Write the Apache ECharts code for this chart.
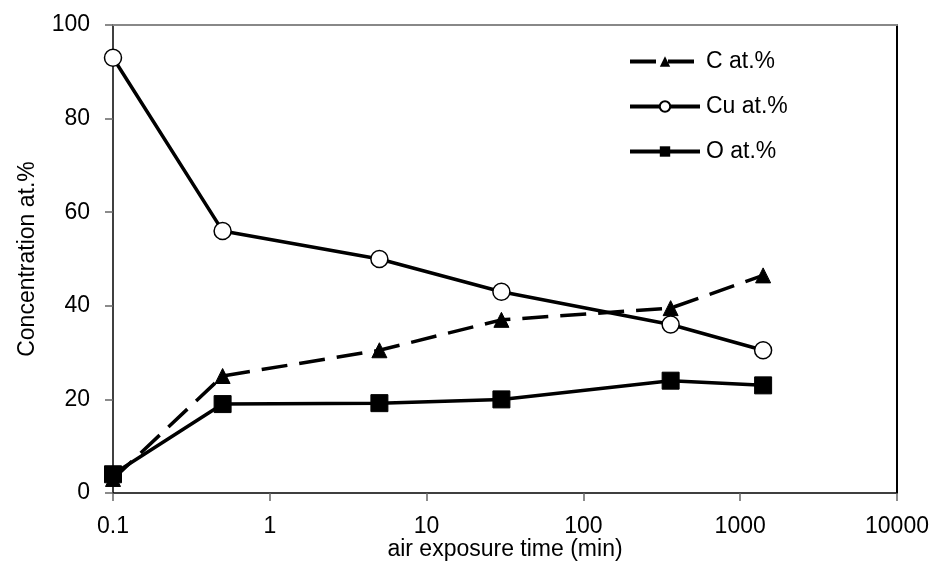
<!DOCTYPE html>
<html>
<head>
<meta charset="utf-8">
<script src="https://cdn.jsdelivr.net/npm/echarts@6/dist/echarts.min.js"></script>
<style>html,body{margin:0;padding:0;background:#fff}#c{width:933px;height:562px}</style>
</head>
<body>
<div id="c"></div>
<script>
const times = [0.1, 0.5, 5, 30, 360, 1400];
const cAt = [3, 25, 30.5, 37, 39.5, 46.5];
const cuAt = [93, 56, 50, 43, 36, 30.5];
const oAt = [4, 19, 19.2, 20, 24, 23];
const xTicks = [0.1, 1, 10, 100, 1000, 10000];
const seriesNames = ['C at.%', 'Cu at.%', 'O at.%'];

const pairs = arr => times.map((t, i) => [t, arr[i]]);
const FONT = 'Liberation Sans, Arial, sans-serif';
const FS = 23;
const chart = echarts.init(document.getElementById('c'));
chart.setOption({
  animation: false,
  grid: {left: 113, right: 36, top: 25, bottom: 69, containLabel: false, outerBoundsMode: 'none'},
  legend: {
    orient: 'vertical', left: 623, top: 45,
    itemWidth: 70, itemHeight: 13, itemGap: 22,
    textStyle: {fontFamily: FONT, fontSize: FS, color: '#000', padding: [0, 0, 0, 1]},
    lineStyle: {width: 4},
    data: seriesNames
  },
  xAxis: [{
    type: 'log', logBase: 10, min: 0.1, max: 10000,
    name: 'air exposure time (min)', nameLocation: 'middle', nameGap: 45, nameMoveOverlap: false,
    nameTextStyle: {fontFamily: FONT, fontSize: FS, color: '#000'},
    axisLine: {lineStyle: {color: '#000', width: 1.5}},
    axisTick: {show: true, length: 8, lineStyle: {color: '#666', width: 1.5}},
    axisLabel: {fontFamily: FONT, fontSize: FS, color: '#000', margin: 22,
      formatter: v => { const r = xTicks.find(t => Math.abs(t - v) / t < 1e-6); return r === undefined ? '' : String(r); }},
    splitLine: {show: false}, minorTick: {show: false}
  }, {
    type: 'log', logBase: 10, min: 0.1, max: 10000, position: 'top',
    axisLine: {show: true, onZero: false, lineStyle: {color: '#888', width: 2}},
    axisTick: {show: false}, axisLabel: {show: false}, splitLine: {show: false}
  }],
  yAxis: [{
    type: 'value', min: 0, max: 100, interval: 20,
    name: 'Concentration at.%', nameLocation: 'middle', nameGap: 74, nameRotate: 90, nameMoveOverlap: false,
    nameTextStyle: {fontFamily: FONT, fontSize: FS, color: '#000'},
    axisLine: {show: true, lineStyle: {color: '#000', width: 1.5}},
    axisTick: {show: true, length: 8, lineStyle: {color: '#666', width: 1.5}},
    axisLabel: {fontFamily: FONT, fontSize: FS, color: '#000', margin: 23},
    splitLine: {show: false}
  }, {
    type: 'value', min: 0, max: 100, interval: 20, position: 'right',
    axisLine: {show: true, onZero: false, lineStyle: {color: '#000', width: 2}},
    axisTick: {show: false}, axisLabel: {show: false}, splitLine: {show: false}
  }],
  series: [{
    name: seriesNames[0], type: 'line', data: pairs(cAt),
    symbol: 'triangle', symbolSize: 15,
    lineStyle: {color: '#000', width: 3.5, type: [26, 12]},
    itemStyle: {color: '#000', borderColor: '#000'}, z: 3
  }, {
    name: seriesNames[1], type: 'line', data: pairs(cuAt),
    symbol: 'circle', symbolSize: 17, showAllSymbol: true,
    lineStyle: {color: '#000', width: 3.5},
    itemStyle: {color: '#fff', borderColor: '#000', borderWidth: 1.5}, z: 4
  }, {
    name: seriesNames[2], type: 'line', data: pairs(oAt),
    symbol: 'rect', symbolSize: 17,
    lineStyle: {color: '#000', width: 3.5},
    itemStyle: {color: '#000', borderColor: '#000'}, z: 5
  }]
});
</script>
</body>
</html>
